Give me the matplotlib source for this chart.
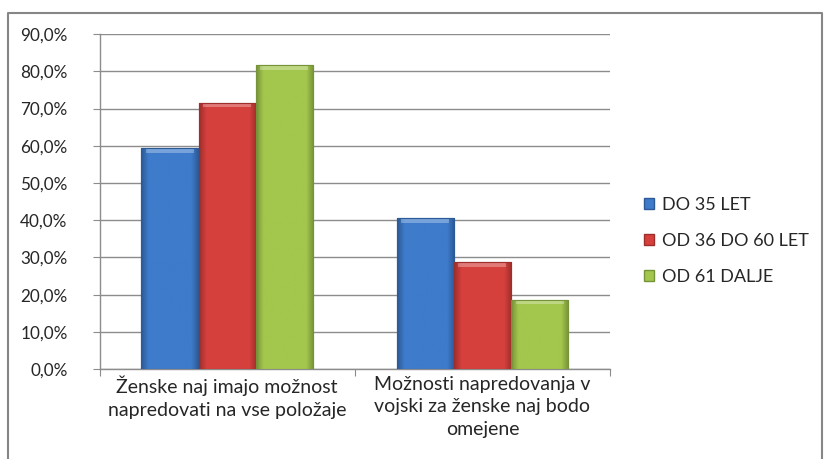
import matplotlib.pyplot as plt
import matplotlib.colors as mcolors
from matplotlib.patches import Rectangle
from matplotlib.lines import Line2D
import numpy as np

# data
categories = ["Ženske naj imajo možnost\nnapredovati na vse položaje",
              "Možnosti napredovanja v\nvojski za ženske naj bodo\nomejene"]
series_names = ["DO 35 LET", "OD 36 DO 60 LET", "OD 61 DALJE"]
do35 = [59.4, 40.5]
od36 = [71.6, 28.7]
od61 = [81.7, 18.6]
yticks = [0, 10, 20, 30, 40, 50, 60, 70, 80, 90]

colors = ["#3E7BCB", "#D5403D", "#A3C64D"]
edges = ["#2C5A94", "#9E2E2B", "#77933A"]

plt.rcParams["font.family"] = ["Lato", "DejaVu Sans"]
fig = plt.figure(figsize=(8.26, 4.59), dpi=100)
ax = fig.add_axes([0.1205, 0.196, 0.618, 0.7295])

x = np.arange(len(categories))
width = 0.224
grid_col = "#8C8C8C"
text_col = "#262626"

for i, vals in enumerate([do35, od36, od61]):
    pos = x + (i - 1) * width
    bars = ax.bar(pos, vals, width, color=colors[i], edgecolor=edges[i],
                  linewidth=0.8, zorder=3, label=series_names[i])
    # horizontal shading to mimic the bevelled look
    base = np.array(mcolors.to_rgb(colors[i]))
    dark = np.array(mcolors.to_rgb(edges[i]))
    t = np.linspace(0, 1, 64)
    prof = np.clip(np.minimum(t, 1 - t) * 8, 0, 1)
    grad = dark[None, :] * (1 - prof[:, None]) + base[None, :] * prof[:, None]
    for b in bars:
        im = ax.imshow(grad[None, :, :], extent=[b.get_x(), b.get_x() + b.get_width(), 0, b.get_height()],
                       aspect="auto", zorder=3.5, interpolation="bilinear")
        im.set_clip_path(b)
        # light top bevel
        top = b.get_height()
        ax.fill_between([b.get_x() + width * 0.08, b.get_x() + width * 0.92], top - 1.2, top - 0.1,
                        color="white", alpha=0.3, zorder=4, linewidth=0)
        ax.add_patch(Rectangle((b.get_x(), 0), b.get_width(), top, fill=False,
                               edgecolor=edges[i], linewidth=0.8, zorder=5))

ax.set_xlim(-0.5, 1.5)
ax.set_ylim(0, 90)
ax.set_yticks(yticks)
ax.set_yticklabels([f"{v:.1f}%".replace(".", ",") for v in yticks])
ax.set_xticks([-0.5, 0.5, 1.5])
ax.set_xticklabels([])
ax.set_xticks(x, minor=True)
ax.set_xticklabels(categories, minor=True, fontsize=14, color=text_col, linespacing=1.38)
ax.tick_params(axis="x", which="minor", length=0, pad=5)
ax.tick_params(axis="x", which="major", length=5, color=grid_col, direction="out")
ax.tick_params(axis="y", length=5, color=grid_col, pad=18, labelsize=12.3, labelcolor=text_col)

ax.yaxis.grid(True, color=grid_col, linewidth=1.0, zorder=0)
ax.set_axisbelow(True)
for s in ["top", "right"]:
    ax.spines[s].set_visible(False)
for s in ["left", "bottom"]:
    ax.spines[s].set_color(grid_col)
    ax.spines[s].set_linewidth(1.0)

handles = [Rectangle((0, 0), 1, 1, facecolor=colors[i], edgecolor=edges[i]) for i in range(3)]
fig.legend(handles, series_names, loc="upper left", bbox_to_anchor=(0.76, 0.607),
           frameon=False, fontsize=13, handlelength=0.55, handleheight=0.55,
           handletextpad=0.45, labelspacing=1.12, labelcolor=text_col)

# outer chart border (left, top, right)
fig.add_artist(Line2D([0.0097, 0.0097, 0.995, 0.995], [0.0, 0.972, 0.972, 0.0],
                      transform=fig.transFigure, color="#868686", linewidth=1.5))

fig.savefig("out.png", dpi=100)
